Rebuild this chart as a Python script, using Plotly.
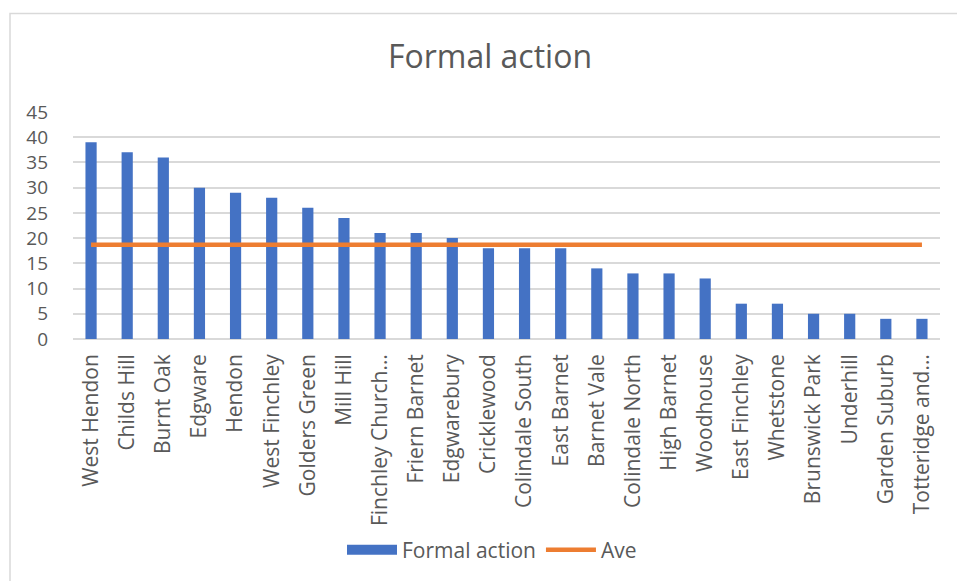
import plotly.graph_objects as go

wards = ["West Hendon", "Childs Hill", "Burnt Oak", "Edgware", "Hendon", "West Finchley",
         "Golders Green", "Mill Hill", "Finchley Church…", "Friern Barnet", "Edgwarebury",
         "Cricklewood", "Colindale South", "East Barnet", "Barnet Vale", "Colindale North",
         "High Barnet", "Woodhouse", "East Finchley", "Whetstone", "Brunswick Park",
         "Underhill", "Garden Suburb", "Totteridge and…"]
formal_action = [39, 37, 36, 30, 29, 28, 26, 24, 21, 21, 20, 18, 18, 18, 14, 13, 13, 12,
                 7, 7, 5, 5, 4, 4]
ave_value = 18.7
ave = [ave_value] * len(wards)

FONT = "Open Sans"
TXT = "#595959"
BLUE = "#4472C4"
ORANGE = "#ED7D31"

fig = go.Figure()
fig.add_trace(go.Bar(x=wards, y=formal_action, name="Formal action", showlegend=False,
                     marker=dict(color=BLUE, line=dict(width=0))))
# legend proxy with a wide swatch, like the reference
fig.add_trace(go.Scatter(x=[None], y=[None], name="Formal action", mode="lines",
                         line=dict(color=BLUE, width=14), hoverinfo="skip"))
fig.add_trace(go.Scatter(x=wards, y=ave, name="Ave", mode="lines",
                         line=dict(color=ORANGE, width=4.5)))

L, R, T, B = 73, 17, 112, 241
W, H = 957, 581
pw, ph = W - L - R, H - T - B

def px_x(p):
    return (p - L) / pw

def px_y(p):
    return (H - B - p) / ph

fig.update_layout(
    width=W, height=H,
    margin=dict(l=L, r=R, t=T, b=B),
    paper_bgcolor="white", plot_bgcolor="white",
    font=dict(family=FONT, color=TXT, size=21),
    title=dict(text="Formal action", xref="paper", x=px_x(490), xanchor="center",
               y=1 - 57 / H, yanchor="middle",
               font=dict(size=32, color=TXT, family=FONT)),
    bargap=0.69,
    showlegend=True,
    legend=dict(orientation="h", x=px_x(492), xanchor="center", y=px_y(550), yanchor="middle",
                font=dict(size=21, color=TXT), bgcolor="rgba(0,0,0,0)", itemwidth=50),
    xaxis=dict(type="category", tickangle=-90, showgrid=False, ticks="", showline=False,
               tickfont=dict(size=21, color=TXT), automargin=False, ticklabelstandoff=10),
    yaxis=dict(range=[0, 45], dtick=5, showgrid=True, gridcolor="#D9D9D9", gridwidth=1.5,
               zeroline=True, zerolinecolor="#D9D9D9", zerolinewidth=1.5, ticks="",
               showline=False, tickfont=dict(size=19, color=TXT), automargin=False,
               ticklabelstandoff=24),
    shapes=[dict(type="rect", xref="paper", yref="paper",
                 x0=px_x(10), x1=px_x(W + 5), y0=px_y(H + 5), y1=px_y(13),
                 line=dict(color="#D9D9D9", width=1.5), fillcolor="rgba(0,0,0,0)", layer="below")],
)

fig.write_html("out.html")
